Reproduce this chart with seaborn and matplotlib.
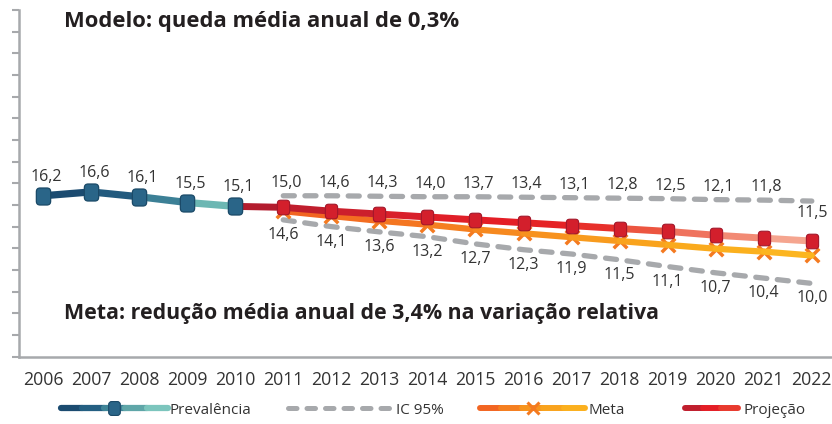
import numpy as np
import pandas as pd
import seaborn as sns
import matplotlib
matplotlib.use("Agg")
import matplotlib.pyplot as plt
from matplotlib.lines import Line2D
from matplotlib.legend_handler import HandlerBase
from matplotlib.patches import FancyBboxPatch

# ---------------- data ----------------
prev_years = [2006, 2007, 2008, 2009, 2010]
prevalencia = [16.2, 16.6, 16.1, 15.5, 15.1]

proj_years = [2011, 2012, 2013, 2014, 2015, 2016, 2017, 2018, 2019, 2020, 2021, 2022]
projecao = [15.0, 14.6, 14.3, 14.0, 13.7, 13.4, 13.1, 12.8, 12.5, 12.1, 11.8, 11.5]
meta = [14.6, 14.1, 13.6, 13.2, 12.7, 12.3, 11.9, 11.5, 11.1, 10.7, 10.4, 10.0]
ic_upper = [16.2, 16.2, 16.15, 16.1, 16.1, 16.05, 16.0, 15.95, 15.9, 15.8, 15.75, 15.65]
ic_lower = [13.7, 13.0, 12.45, 11.95, 11.2, 10.6, 10.15, 9.55, 8.85, 8.2, 7.65, 7.1]

all_years = list(range(2006, 2023))
title_top = "Modelo: queda média anual de 0,3%"
title_bottom = "Meta: redução média anual de 3,4% na variação relativa"
legend_labels = ["Prevalência", "IC 95%", "Meta", "Projeção"]

# ---------------- style ----------------
sns.set_theme(style="white")
plt.rcParams['font.family'] = ['Open Sans', 'DejaVu Sans']

prev_colors = ['#1b4b70', '#225a7e', '#3c8096', '#6cb7b3']
proj_colors = ['#b31c2e', '#c01e2d', '#cc1f2c', '#d8202b', '#e01f28', '#e41e26',
               '#e52326', '#e7302b', '#ec5540', '#ef735e', '#f28a74', '#f5a58f']
meta_colors = ['#f26522', '#f36d21', '#f47621', '#f57f20', '#f6891f', '#f7921e',
               '#f89b1e', '#f9a31d', '#faaa1d', '#fbb01e', '#fcb520']
gray = '#a7a9ac'
txt = '#333333'

# rounded rectangle marker (slightly taller than wide)
_rr = FancyBboxPatch((-0.42, -0.5), 0.84, 1.0,
                     boxstyle='round,pad=0,rounding_size=0.22')
rounded_marker = _rr.get_path()

W, H = 832, 424
fig = plt.figure(figsize=(W / 100, H / 100), dpi=100)
ax = fig.add_axes([19 / W, (H - 356.7) / H, (W - 19) / W, (356.7 - 10) / H])
ax.set_facecolor('white')
ax.set_xlim(2005.5, 2022.42)
ylo, yhi = -0.51, 35.49
ax.set_ylim(ylo, yhi)

# IC 95% dashed lines
for arr in (ic_upper, ic_lower):
    sns.lineplot(x=proj_years, y=arr, ax=ax, color=gray, lw=3.8,
                 dashes=False, zorder=2)
    l = ax.lines[-1]
    l.set_dashes((2.1, 2.0))
    l.set_dash_capstyle('round')

# Meta line (gradient by segment)
sns.scatterplot(x=proj_years, y=meta, ax=ax, marker='x', s=95, color='#f47a20',
                linewidth=2.5, zorder=3)
for i in range(len(proj_years) - 1):
    sns.lineplot(x=proj_years[i:i + 2], y=meta[i:i + 2], ax=ax, color=meta_colors[i],
                 lw=4.5, solid_capstyle='round', zorder=3.5)

# Projeção line (starting from last observed point)
px = [prev_years[-1]] + proj_years
py = [prevalencia[-1]] + projecao
for i in range(len(px) - 1):
    sns.lineplot(x=px[i:i + 2], y=py[i:i + 2], ax=ax, color=proj_colors[i],
                 lw=5.0, solid_capstyle='round', zorder=4)
sns.scatterplot(x=proj_years, y=projecao, ax=ax, marker=rounded_marker, s=110,
                color='#d31f2c', edgecolor='#a3172a', linewidth=0.8, zorder=5)

# Prevalência
for i in range(len(prev_years) - 1):
    sns.lineplot(x=prev_years[i:i + 2], y=prevalencia[i:i + 2], ax=ax, color=prev_colors[i],
                 lw=5.2, solid_capstyle='round', zorder=6)
sns.scatterplot(x=prev_years, y=prevalencia, ax=ax, marker=rounded_marker, s=150,
                color='#2a6588', edgecolor='#1b4a68', linewidth=0.9, zorder=7)

def fmt(v):
    return f"{v:.1f}".replace('.', ',')

lab_kw = dict(textcoords='offset pixels', ha='center', va='center', fontsize=11.5,
              color=txt, zorder=10, annotation_clip=False)
for x, v in zip(prev_years, prevalencia):
    ax.annotate(fmt(v), (x, v), xytext=(3, 19), **lab_kw)
for j, (x, v, u) in enumerate(zip(proj_years, projecao, ic_upper)):
    if j == len(proj_years) - 1:
        ax.annotate(fmt(v), (x, v), xytext=(0, 28), **lab_kw)
    else:
        ax.annotate(fmt(v), (x, u), xytext=(3, 13), **lab_kw)
for x, v, lo in zip(proj_years, meta, ic_lower):
    ax.annotate(fmt(v), (x, lo), xytext=(0, -15), **lab_kw)

# axes styling
for s in ['top', 'right']:
    ax.spines[s].set_visible(False)
for s in ['left', 'bottom']:
    ax.spines[s].set_color(gray)
    ax.spines[s].set_linewidth(1.8)
ax.set_yticks(np.linspace(ylo, yhi, 17))
ax.set_yticklabels([])
ax.tick_params(axis='y', direction='out', length=5, width=1.5, color=gray, left=True)
ax.set_xticks(all_years)
ax.set_xticklabels([str(y) for y in all_years])
ax.tick_params(axis='x', length=0, pad=10, labelsize=12.7, labelcolor=txt)
ax.set_xlabel('')
ax.set_ylabel('')
ax.grid(False)

fig.text(64 / W, 1 - 22 / H, title_top, ha='left', va='center', fontsize=15.8,
         fontweight='bold', color='#231f20')
fig.text(64 / W, 1 - 313 / H, title_bottom, ha='left', va='center', fontsize=15.4,
         fontweight='bold', color='#231f20')

# ---------------- legend ----------------
class GradientHandler(HandlerBase):
    def __init__(self, colors, lw, marker=None, ms=0, mfc=None, mec=None, mew=1.0, **kw):
        super().__init__(**kw)
        self.colors, self.lw = colors, lw
        self.marker, self.ms, self.mfc, self.mec, self.mew = marker, ms, mfc, mec, mew

    def create_artists(self, legend, orig_handle, xdescent, ydescent, width, height,
                       fontsize, trans):
        y = height / 2 - ydescent
        n = len(self.colors)
        arts = []
        for i, c in enumerate(self.colors):
            x0 = -xdescent + width * i / n
            x1 = -xdescent + width * (i + 1) / n
            ln = Line2D([x0, x1], [y, y], color=c, lw=self.lw, solid_capstyle='round')
            ln.set_transform(trans)
            arts.append(ln)
        if self.marker is not None:
            m = Line2D([-xdescent + width / 2], [y], marker=self.marker, ms=self.ms,
                       mfc=self.mfc, mec=self.mec, mew=self.mew, linestyle='None')
            m.set_transform(trans)
            arts.append(m)
        return arts

h_prev, h_meta, h_proj = Line2D([], []), Line2D([], []), Line2D([], [])
h_ic = Line2D([], [], color=gray, lw=3.6, dashes=(1.7, 2.0), dash_capstyle='round')

leg_y = 1 - 410 / H
specs = [
    (h_prev, legend_labels[0], 61, 7.0, 0.12,
     GradientHandler(['#1b4b70', '#245f82', '#3f8497', '#5fa6a8', '#7cc5bd'], 4.5,
                     marker=rounded_marker, ms=10, mfc='#2a6588', mec='#1b4a68', mew=0.8)),
    (h_ic, legend_labels[1], 288, 6.6, 0.5, None),
    (h_meta, legend_labels[2], 480, 6.9, 0.2,
     GradientHandler(['#f26522', '#f57f20', '#f7941d', '#f9a31d', '#fbb01e'], 4.3,
                     marker='x', ms=8, mec='#f47a20', mew=2.2)),
    (h_proj, legend_labels[3], 685, 3.5, 0.33,
     GradientHandler(['#c01e2d', '#e41e26', '#e83a2e'], 4.3)),
]
for h, lab, x0, hl, htp, handler in specs:
    kw = {}
    if handler is not None:
        kw['handler_map'] = {h: handler}
    fig.legend(handles=[h], labels=[lab], loc='center left',
               bbox_to_anchor=(x0 / W, leg_y), frameon=False, handlelength=hl,
               handletextpad=htp, borderpad=0, borderaxespad=0, fontsize=11,
               labelcolor=txt, **kw)

fig.savefig('out.png', dpi=100)
